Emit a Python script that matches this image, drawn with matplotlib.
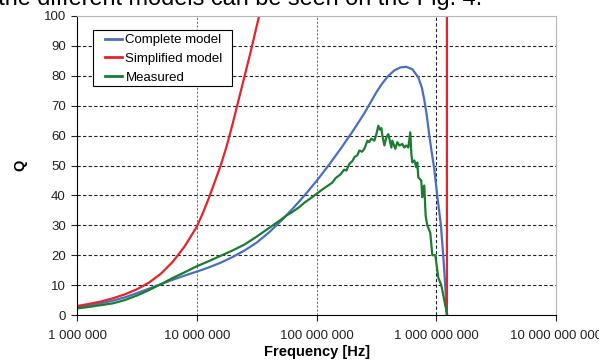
import numpy as np
import matplotlib.pyplot as plt
from matplotlib.patches import Rectangle
from matplotlib.ticker import FixedLocator, FuncFormatter, NullLocator

plt.rcParams['font.family'] = ['Liberation Sans', 'DejaVu Sans']

# data (log10 of frequency in Hz, Q)
logf_complete = [6.0, 6.1, 6.2, 6.3, 6.4, 6.5, 6.6, 6.7, 6.8, 6.9, 7.0, 7.1, 7.2, 7.3,
                 7.4, 7.5, 7.6, 7.7, 7.8, 7.9, 8.0, 8.1, 8.2, 8.3, 8.4, 8.5, 8.55,
                 8.6, 8.65, 8.7, 8.75, 8.8, 8.85, 8.88, 8.9, 8.92, 8.942, 8.96,
                 8.983, 9.008, 9.039, 9.058, 9.075, 9.089]
q_complete = [2.6, 3.2, 3.9, 4.8, 5.9, 7.3, 8.8, 10.3, 11.8, 13.2, 14.5, 15.9, 17.5, 19.4,
              21.6, 24.2, 27.5, 31.3, 35.5, 40.0, 44.8, 50.0, 55.5, 61.3, 67.5, 74.5, 77.5,
              80.0, 81.8, 82.8, 83.0, 82.2, 79.5, 76.0, 72.0, 67.0, 60.0, 55.0,
              49.0, 40.0, 30.0, 20.0, 10.0, 0.0]

logf_simplified = [6.0, 6.1, 6.2, 6.3, 6.4, 6.5, 6.6, 6.7, 6.8, 6.9, 7.0, 7.05, 7.1,
                   7.15, 7.2, 7.25, 7.3, 7.35, 7.4, 7.45, 7.5, 7.55, 7.6, 9.089, 9.089]
q_simplified = [3.0, 3.7, 4.5, 5.6, 6.9, 8.6, 10.8, 13.8, 17.8, 23.0, 29.5, 34.0, 39.0,
                44.5, 50.0, 56.5, 64.0, 72.0, 80.0, 88.0, 96.5, 105.0, 114.0, 400.0, 0.0]

logf_measured = [6.0, 6.1, 6.2, 6.3, 6.4, 6.5, 6.6, 6.7, 6.8, 6.9, 7.0, 7.1, 7.2, 7.3,
                 7.4, 7.5, 7.6, 7.7, 7.75, 7.8, 7.85, 7.9, 7.95, 8.0, 8.05, 8.1,
                 8.13, 8.16, 8.2, 8.23, 8.25, 8.275, 8.3, 8.317, 8.34, 8.358, 8.38,
                 8.4, 8.425, 8.44, 8.458, 8.483, 8.5, 8.517, 8.53, 8.542, 8.55,
                 8.567, 8.583, 8.6, 8.625, 8.633, 8.658, 8.675, 8.692, 8.717, 8.733,
                 8.75, 8.767, 8.783, 8.792, 8.8, 8.817, 8.833, 8.842, 8.85, 8.875,
                 8.883, 8.892, 8.9, 8.908, 8.912, 8.925, 8.95, 8.967, 8.992, 9.017,
                 9.042, 9.092]
q_measured = [2.2, 2.7, 3.3, 3.9, 5.0, 6.5, 8.3, 10.3, 12.4, 14.3, 16.3, 18.0, 19.8, 21.6,
              23.6, 26.2, 29.0, 31.8, 33.3, 34.5, 35.9, 37.6, 39.0, 40.5, 42.0, 43.4,
              44.2, 45.8, 47.0, 48.6, 48.3, 50.6, 51.5, 52.8, 53.4, 55.0, 54.6,
              55.6, 58.3, 57.8, 59.0, 58.3, 60.5, 63.3, 62.0, 62.5, 60.0,
              56.7, 59.4, 60.5, 56.0, 58.3, 55.6, 57.8, 56.7, 57.2, 56.0,
              56.7, 56.0, 61.1, 54.0, 51.0, 51.7, 49.4, 51.0, 46.0, 45.0,
              39.4, 42.8, 43.3, 36.0, 33.0, 30.0, 27.5, 20.0, 20.0, 12.5,
              10.0, 0.0]

xticks = [1e6, 1e7, 1e8, 1e9, 1e10]
yticks = list(range(0, 101, 10))

W, H = 599, 361
fig = plt.figure(figsize=(W / 100, H / 100), dpi=100)
ax = fig.add_axes([77 / W, (H - 315) / H, 479 / W, 299 / H])

ax.plot(10 ** np.array(logf_complete), q_complete, color='#4a6fbd', lw=1.6, label='Complete model')
ax.plot(10 ** np.array(logf_simplified), q_simplified, color='#e3242b', lw=1.6, label='Simplified model')
ax.plot(10 ** np.array(logf_measured), q_measured, color='#1d7b32', lw=1.6, label='Measured')

ax.set_xscale('log')
ax.set_xlim(1e6, 1e10)
ax.set_ylim(0, 100)
ax.xaxis.set_major_locator(FixedLocator(xticks))
ax.xaxis.set_minor_locator(NullLocator())
ax.xaxis.set_major_formatter(FuncFormatter(lambda v, p: f"{int(round(v)):,}".replace(",", " ")))
ax.set_yticks(yticks)

# grid
for y in yticks[1:-1]:
    ax.axhline(y, color='#222222', lw=0.8, ls=(0, (3, 2)), zorder=0)
for x in xticks[1:3]:
    ax.axvline(x, color='#777777', lw=0.8, ls=(0, (2, 1.5)), zorder=0)
ax.axvline(1e9, color='#222222', lw=0.8, ls=(0, (3, 2)), zorder=0)

for s in ['top', 'right']:
    ax.spines[s].set_color('#b5b5b5')
for s in ['left', 'bottom']:
    ax.spines[s].set_color('black')
ax.tick_params(axis='both', direction='out', length=4, width=0.8, labelsize=9.5, colors='#222222')
ax.tick_params(axis='x', pad=7)
ax.tick_params(axis='y', pad=4)

ax.set_xlabel("Frequency [Hz]", fontsize=10.5, fontweight='bold')
ax.xaxis.set_label_coords(0.501, -0.10)
ax.set_ylabel("Q", fontsize=10.5, fontweight='bold')
ax.yaxis.set_label_coords(-0.104, 0.5)

# legend without frame, box drawn separately to get the wide side padding
box = Rectangle((93 / W, (H - 86) / H), 139 / W, 56 / H, transform=fig.transFigure,
                facecolor='white', edgecolor='black', lw=0.8, zorder=4, clip_on=False)
ax.add_patch(box)
leg = ax.legend(loc='upper left', bbox_to_anchor=(105 / W, (H - 34) / H),
                bbox_transform=fig.transFigure, fontsize=9.5, frameon=False,
                handlelength=1.3, handletextpad=0.25, labelspacing=0.5, borderpad=0,
                borderaxespad=0)
leg.set_zorder(5)
for line in leg.get_lines():
    line.set_linewidth(2.0)

# page text cut off above the chart
fig.text(482 / W, (H - 5) / H, "of the different models can be seen on the Fig. 4.",
         ha='right', va='baseline', fontsize=16.9, color='black')

fig.savefig("out.png", dpi=100)
